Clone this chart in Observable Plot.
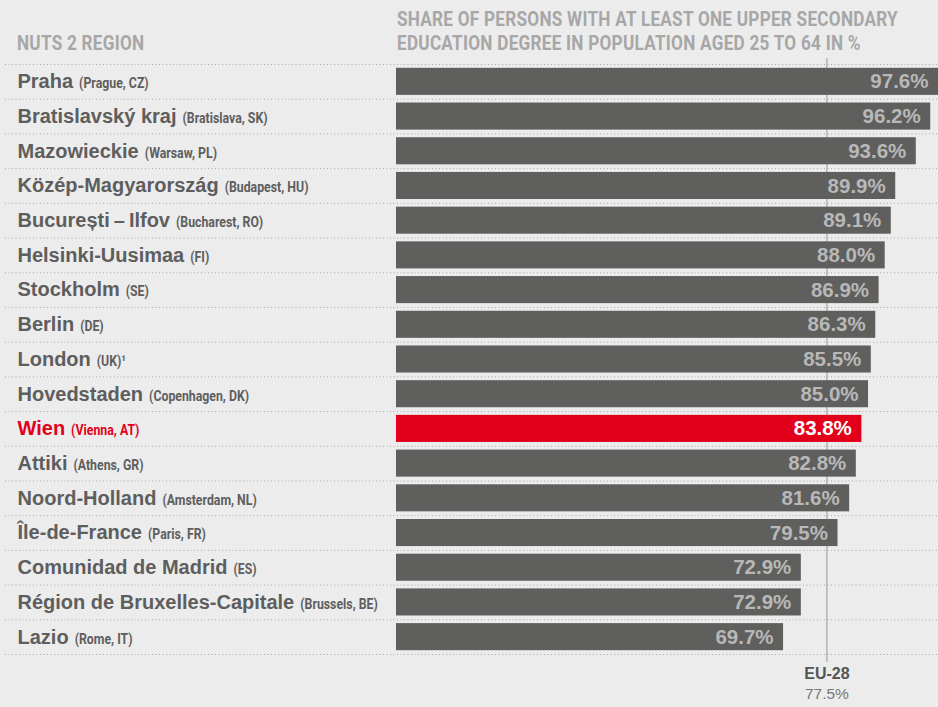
<!DOCTYPE html>
<html><head><meta charset="utf-8">
<script src="https://cdn.jsdelivr.net/npm/d3@7"></script>
<script src="https://cdn.jsdelivr.net/npm/@observablehq/plot@0.6"></script>
<style>
body{margin:0;background:#ececec;}
#wrap{position:relative;width:938px;height:707px;overflow:hidden;}
.hdr{position:absolute;font-family:Roboto,"Liberation Sans",sans-serif;font-weight:bold;color:#a7a7a7;font-size:21px;letter-spacing:0.3px;line-height:24px;white-space:nowrap;transform-origin:0 0;}
#chart{position:absolute;left:0;top:0;}
</style></head>
<body><div id="wrap">
<div id="chart"></div>
<div class="hdr" id="h1" style="left:17px;top:31px;">NUTS 2 REGION</div>
<div class="hdr" id="h2" style="left:397px;top:7px;"><span id="h2a">SHARE OF PERSONS WITH AT LEAST ONE UPPER SECONDARY</span><br>EDUCATION DEGREE IN POPULATION AGED 25 TO 64 IN %</div>
</div>
<script>
const regions = ["Praha","Bratislavský kraj","Mazowieckie","Közép-Magyarország","București\u2009–\u2009Ilfov","Helsinki-Uusimaa","Stockholm","Berlin","London","Hovedstaden","Wien","Attiki","Noord-Holland","Île-de-France","Comunidad de Madrid","Région de Bruxelles-Capitale","Lazio"];
const notes = ["(Prague, CZ)","(Bratislava, SK)","(Warsaw, PL)","(Budapest, HU)","(Bucharest, RO)","(FI)","(SE)","(DE)","(UK)¹","(Copenhagen, DK)","(Vienna, AT)","(Athens, GR)","(Amsterdam, NL)","(Paris, FR)","(ES)","(Brussels, BE)","(Rome, IT)"];
const values = [97.6,96.2,93.6,89.9,89.1,88.0,86.9,86.3,85.5,85.0,83.8,82.8,81.6,79.5,72.9,72.9,69.7];
const highlight = "Wien";
const euLabel = "EU-28";
const euValue = 77.5;

const RED = "#e2001a", GREY = "#5f5f5e", TXT = "#5e5e5e";
const MAIN_FONT = "'Liberation Sans', Arial, sans-serif";
const NOTE_FONT = "Roboto, 'Liberation Sans', sans-serif";

const data = regions.map((r, i) => ({region: r, note: notes[i], value: values[i], hl: r === highlight}));
const H = 707, MT = 64, MB = 53;
const step = (H - MT - MB) / regions.length;

const chart = Plot.plot({
  width: 938, height: H,
  marginTop: MT, marginBottom: MB, marginLeft: 5, marginRight: 0,
  x: {domain: [0, 97.6], range: [396, 938], axis: null},
  y: {domain: regions, paddingInner: 0.22, paddingOuter: 0.11, round: false, axis: null},
  color: {type: "identity"},
  style: {background: "transparent", fontFamily: MAIN_FONT, overflow: "visible"},
  marks: [
    Plot.ruleY(regions, {y: d => d, dy: -step / 2, stroke: "#a9a9a9", strokeWidth: 1, strokeDasharray: "1,2.5"}),
    Plot.ruleY([regions[regions.length - 1]], {y: d => d, dy: step / 2, stroke: "#a9a9a9", strokeWidth: 1, strokeDasharray: "1,2.5"}),
    Plot.ruleX([euValue], {x: d => d, stroke: "#b2b2b2", strokeWidth: 1.5, insetTop: -6, insetBottom: -8}),
    Plot.barX(data, {x: "value", y: "region", fill: d => d.hl ? RED : GREY}),
    Plot.text(data, {x: "value", y: "region", text: d => d.value.toFixed(1) + "%", textAnchor: "end", dx: -10,
      fill: d => d.hl ? "#ffffff" : "#b8b8b8", fontSize: 20.5, fontWeight: "bold"}),
    Plot.text(data, {y: "region", frameAnchor: "left", dx: 12, text: "region", textAnchor: "start",
      fill: d => d.hl ? RED : TXT, fontSize: 20, fontWeight: "bold"}),
    Plot.text([euValue], {x: d => d, frameAnchor: "bottom", dy: 24, text: () => euLabel, fill: "#555555", fontSize: 16, fontWeight: "bold"}),
    Plot.text([euValue], {x: d => d, frameAnchor: "bottom", dy: 44, text: d => d.toFixed(1) + "%", fill: "#777777", fontSize: 15.5})
  ]
});
document.getElementById("chart").appendChild(chart);

// add the smaller, condensed parenthetical notes after each region name
chart.querySelectorAll("text").forEach(el => {
  const i = regions.indexOf(el.textContent);
  if (i < 0) return;
  const ts = document.createElementNS("http://www.w3.org/2000/svg", "tspan");
  ts.setAttribute("dx", 6);
  ts.setAttribute("font-size", 15);
  ts.setAttribute("font-family", NOTE_FONT);
  ts.setAttribute("font-weight", "bold");
  ts.textContent = notes[i];
  el.appendChild(ts);
  const w = ts.getComputedTextLength();
  ts.setAttribute("textLength", (w * 0.82).toFixed(1));
  ts.setAttribute("lengthAdjust", "spacingAndGlyphs");
});

// condense header text
const target = 501;
const w2 = document.getElementById("h2a").getBoundingClientRect().width;
const s = target / w2;
document.getElementById("h1").style.transform = `scaleX(${s})`;
document.getElementById("h2").style.transform = `scaleX(${s})`;
</script>
</body></html>
